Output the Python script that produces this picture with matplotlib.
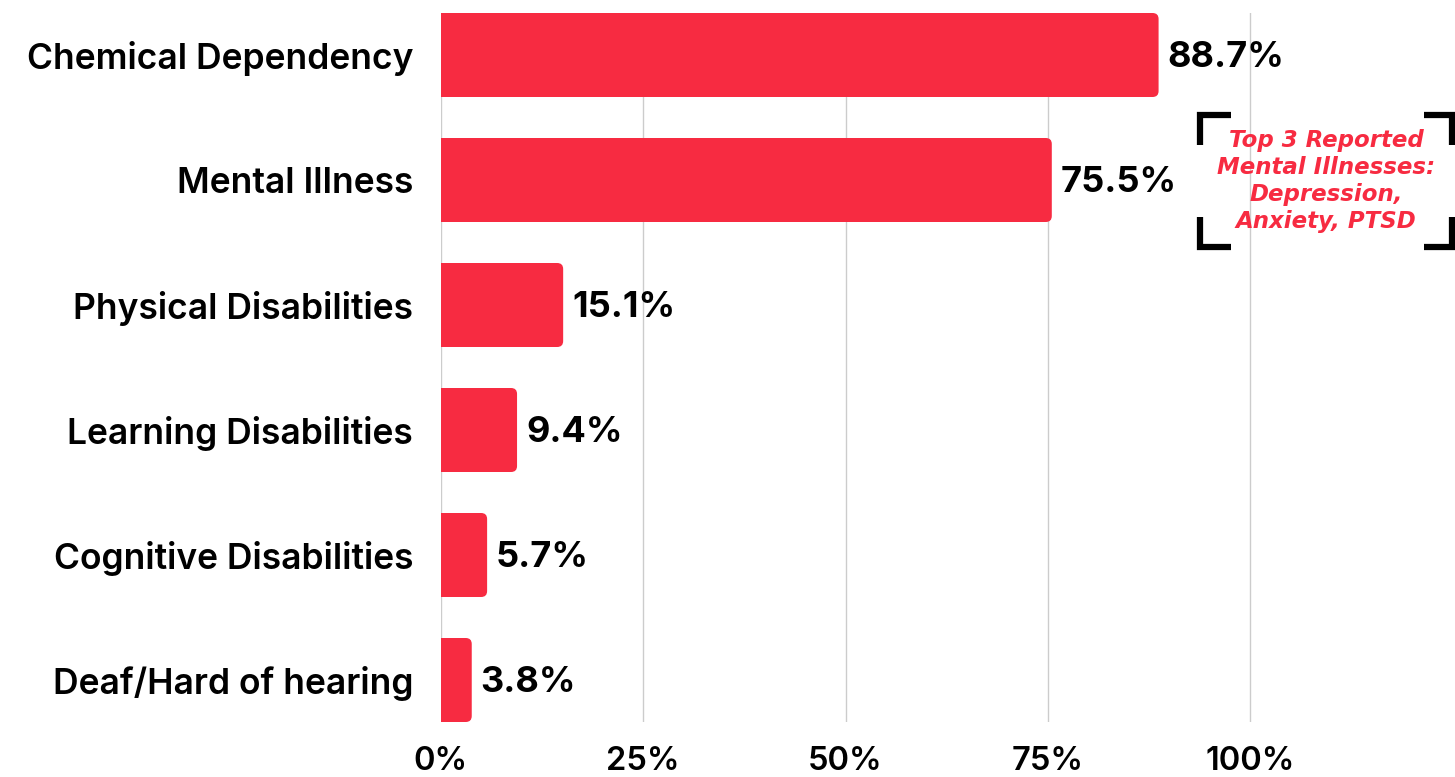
import matplotlib
matplotlib.use("Agg")
import matplotlib.pyplot as plt
from matplotlib.patches import FancyBboxPatch, Rectangle
from matplotlib.lines import Line2D

plt.rcParams['font.family'] = ['Inter', 'DejaVu Sans']

categories = ["Chemical Dependency", "Mental Illness", "Physical Disabilities",
              "Learning Disabilities", "Cognitive Disabilities", "Deaf/Hard of hearing"]
values = [88.7, 75.5, 15.1, 9.4, 5.7, 3.8]
xticks = [0, 25, 50, 75, 100]
note = "Top 3 Reported\nMental Illnesses:\nDepression,\nAnxiety, PTSD"

red = "#F72B41"
W, H = 1455, 777

fig = plt.figure(figsize=(W / 100, H / 100), dpi=100)
ax = fig.add_axes([441 / W, 1 - 722 / H, 1 - 441 / W, (722 - 13) / H])

bar_h = 0.672
ax.set_xlim(0, (W - 441) / 809 * 100)
ax.set_ylim(len(categories) - 1 + bar_h / 2, -bar_h / 2)

# unit sizes so the rounded corners come out circular
x_per_px = ((W - 441) / 809 * 100) / (W - 441)
y_per_px = (len(categories) - 1 + bar_h) / (722 - 13)
r = 6 * x_per_px
for i, v in enumerate(values):
    y0 = i - bar_h / 2
    ax.add_patch(FancyBboxPatch((r, y0 + r * y_per_px / x_per_px),
                                v - 2 * r, bar_h - 2 * r * y_per_px / x_per_px,
                                boxstyle=f"round,pad={r},rounding_size={r}",
                                mutation_aspect=y_per_px / x_per_px,
                                fc=red, ec="none", zorder=3))
    # square off the left end
    ax.add_patch(Rectangle((0, y0), min(v, 2 * r), bar_h, fc=red, ec="none", zorder=3))
    ax.text(v + 1.1, i + 0.02, f"{v}%", va="center", ha="left", fontsize=26,
            fontweight="bold", color="black", zorder=4)

ax.set_yticks(range(len(categories)))
ax.set_yticklabels(categories, fontsize=25.5, fontweight="semibold")
ax.set_xticks(xticks)
ax.set_xticklabels([f"{t}%" for t in xticks], fontsize=23.5, fontweight="semibold")
ax.tick_params(axis="y", length=0, pad=20)
ax.tick_params(axis="x", length=0, pad=17)
ax.grid(axis="x", color="#CCCCCC", lw=1, zorder=0)
for s in ax.spines.values():
    s.set_visible(False)

# bracketed note next to the Mental Illness bar
def px(x, y):
    return x / W, 1 - y / H

lw = 4.5
for (xa, ya), (xb, yb), (xc, yc) in [
        ((1231, 115), (1200, 115), (1200, 145)),
        ((1231, 247), (1200, 247), (1200, 217)),
        ((1424, 115), (1452, 115), (1452, 145)),
        ((1424, 247), (1452, 247), (1452, 217))]:
    xs, ys = zip(px(xa, ya), px(xb, yb), px(xc, yc))
    fig.add_artist(Line2D(xs, ys, color="black", lw=lw, solid_capstyle="butt",
                          solid_joinstyle="miter"))

fig.text(*px(1326, 181), note, ha="center", va="center", fontsize=16.5,
         family="DejaVu Sans", fontstyle="oblique", fontweight="bold",
         color=red, linespacing=1.22)

fig.savefig("out.png", dpi=100)
